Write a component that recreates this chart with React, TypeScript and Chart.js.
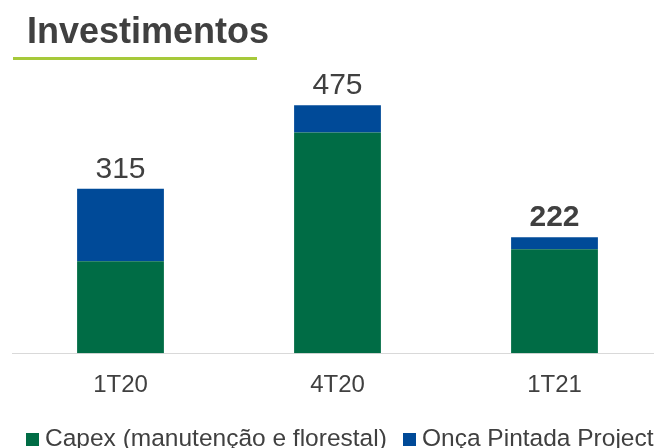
import React, { useEffect, useRef } from "react";
import { Chart, registerables } from "chart.js";

Chart.register(...registerables);

const categories = ["1T20", "4T20", "1T21"];
const capexValues = [176, 423, 199];
const oncaValues = [139, 52, 23];
const totalLabels = ["315", "475", "222"];
const boldTotals = [false, false, true];
const seriesNames = ["Capex (manutenção e florestal)", "Onça Pintada Project"];
const titleText = "Investimentos";

const FONT = "'Liberation Sans', Arial, sans-serif";
const TEXT = "#404040";
const GREEN = "#006C45";
const BLUE = "#004A98";

const CW = 675;
const CH = 448;

export default function App() {
  const ref = useRef<HTMLCanvasElement | null>(null);

  useEffect(() => {
    const canvas = ref.current;
    if (!canvas) return;

    const overlay = {
      id: "overlay",
      afterDraw(chart: any) {
        const ctx = chart.ctx;
        ctx.save();
        // title
        ctx.fillStyle = TEXT;
        ctx.font = `bold 36px ${FONT}`;
        ctx.textAlign = "left";
        ctx.textBaseline = "alphabetic";
        ctx.fillText(titleText, 27, 43);
        ctx.fillStyle = "#A6C93A";
        ctx.fillRect(13, 57, 244, 3);
        // totals
        const meta = chart.getDatasetMeta(1);
        meta.data.forEach((bar: any, i: number) => {
          ctx.font = `${boldTotals[i] ? "bold " : ""}30px ${FONT}`;
          ctx.fillStyle = TEXT;
          ctx.textAlign = "center";
          ctx.textBaseline = "alphabetic";
          ctx.fillText(totalLabels[i], bar.x, bar.y - 11);
        });
        // legend
        ctx.font = `24.5px ${FONT}`;
        ctx.textAlign = "left";
        ctx.textBaseline = "alphabetic";
        const ds = chart.data.datasets;
        const starts = [26, 403];
        ds.forEach((d: any, i: number) => {
          const x = starts[i];
          ctx.fillStyle = d.backgroundColor;
          ctx.fillRect(x, 433, 13, 13);
          ctx.fillStyle = TEXT;
          ctx.fillText(d.label, x + 19, 446);
        });
        ctx.restore();
      },
    };

    const chart = new Chart(canvas, {
      type: "bar",
      data: {
        labels: categories,
        datasets: [
          {
            label: seriesNames[0],
            data: capexValues,
            backgroundColor: GREEN,
            borderWidth: 0,
            barPercentage: 0.4,
            categoryPercentage: 1,
          },
          {
            label: seriesNames[1],
            data: oncaValues,
            backgroundColor: BLUE,
            borderWidth: 0,
            barPercentage: 0.4,
            categoryPercentage: 1,
          },
        ],
      },
      options: {
        responsive: false,
        animation: false,
        devicePixelRatio: 1,
        layout: { padding: { left: 12, right: 12, top: 40, bottom: 38 } },
        scales: {
          x: {
            stacked: true,
            grid: { display: false },
            border: { display: true, color: "#D9D9D9", width: 1 },
            ticks: { color: TEXT, font: { family: FONT, size: 24 }, padding: 10 },
          },
          y: {
            stacked: true,
            display: false,
            min: 0,
            max: 600,
          },
        },
        plugins: {
          legend: { display: false },
          tooltip: { enabled: false },
          title: { display: false },
        },
      },
      plugins: [overlay],
    } as any);

    return () => chart.destroy();
  }, []);

  return (
    <div
      style={{
        position: "fixed",
        left: 0,
        top: 0,
        width: 654,
        height: 448,
        overflow: "hidden",
        background: "#fff",
      }}
    >
      <canvas ref={ref} width={CW} height={CH} style={{ display: "block", width: CW, height: CH }} />
    </div>
  );
}
